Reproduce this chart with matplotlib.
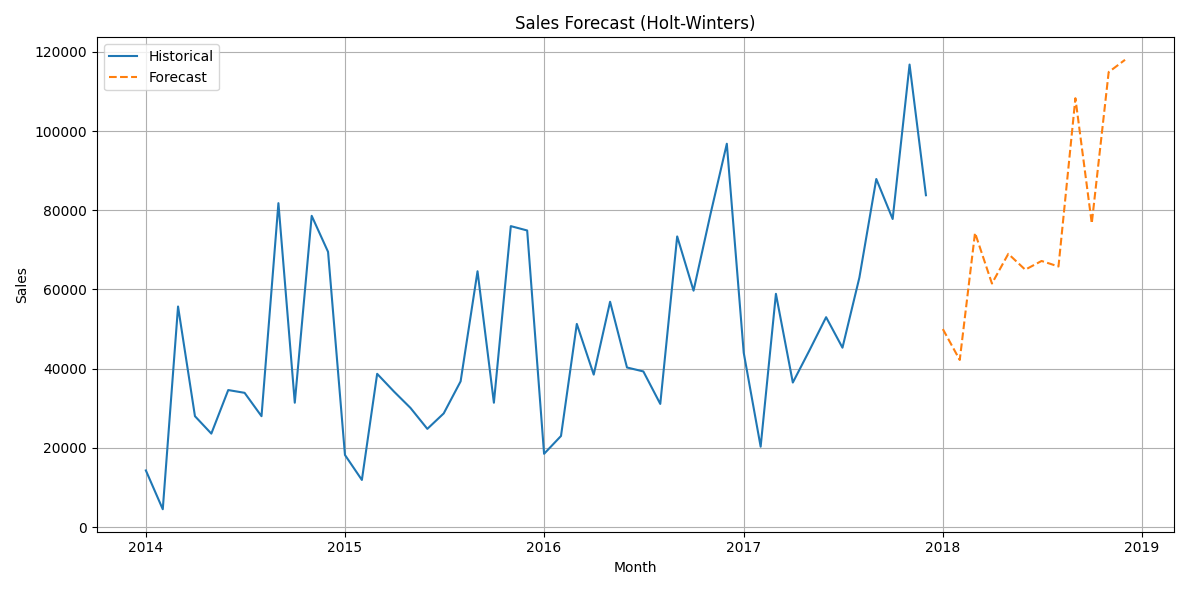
import pandas as pd
import matplotlib.pyplot as plt

# Monthly sales
hist_sales = [14300, 4500, 55700, 28000, 23600, 34600, 33900, 28000, 81800, 31400, 78600, 69500,
              18200, 11900, 38700, 34200, 30100, 24800, 28700, 36800, 64600, 31400, 76000, 74900,
              18500, 23000, 51300, 38500, 56900, 40300, 39300, 31100, 73400, 59700, 79000, 96800,
              44000, 20300, 58900, 36500, 44500, 53000, 45300, 63000, 87900, 77800, 116800, 83800]
forecast_sales = [50000, 42200, 74300, 61500, 69000, 65000, 67200, 65800, 108300, 76700, 114900, 118000]

hist_index = pd.date_range("2014-01-01", periods=len(hist_sales), freq="MS")
fc_index = pd.date_range("2018-01-01", periods=len(forecast_sales), freq="MS")

plt.figure(figsize=(11.89, 5.9), dpi=100)
plt.plot(hist_index, hist_sales, label='Historical')
plt.plot(fc_index, forecast_sales, '--', label='Forecast')
plt.title('Sales Forecast (Holt-Winters)')
plt.xlabel('Month')
plt.ylabel('Sales')
plt.legend(loc='upper left')
plt.grid(True)
plt.tight_layout()
plt.savefig('out.png')
